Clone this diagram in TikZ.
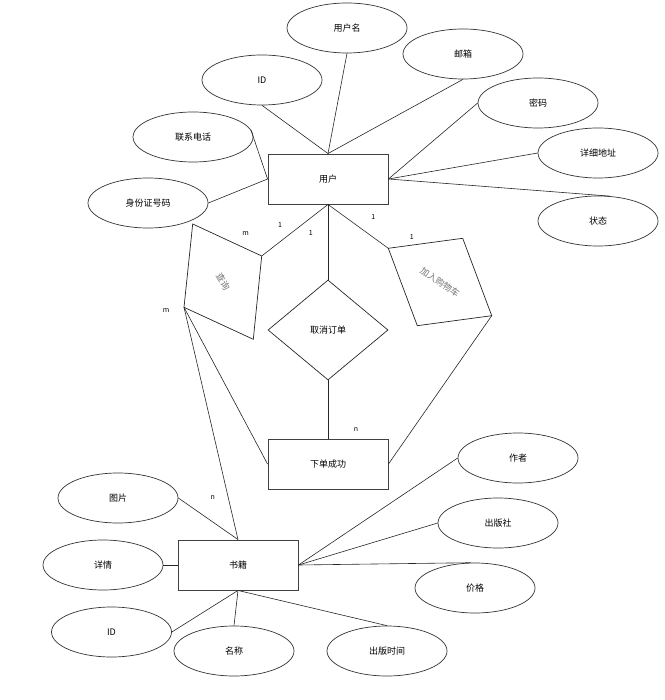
\documentclass[tikz,border=0pt]{standalone}
\usepackage{fontspec}
\setmainfont{Noto Sans CJK SC}
\usetikzlibrary{shapes.geometric}
\begin{document}
\begin{tikzpicture}[x=1pt,y=-1pt,
  attr/.style={ellipse,draw=black!80,line width=0.7pt,minimum width=120pt,minimum height=50pt,inner sep=0pt,font=\fontsize{9}{11}\selectfont},
  ent/.style={rectangle,draw=black!75,line width=0.9pt,minimum width=120pt,minimum height=50pt,inner sep=0pt,font=\fontsize{9}{11}\selectfont},
  relbox/.style={diamond,draw=black!85,line width=0.7pt,minimum width=120pt,minimum height=100pt,inner sep=0pt,font=\fontsize{9}{11}\selectfont},
  rottext/.style={text=black!55,font=\fontsize{9}{11}\selectfont,inner sep=0pt},
  lbl/.style={font=\fontsize{7}{8}\selectfont,inner sep=0pt},
  conn/.style={draw=black!85,line width=0.6pt},
  quad/.style={draw=black!85,line width=0.7pt}]
\useasboundingbox (0,0) rectangle (664,700);

% entities
\node[ent] (user) at (328,179) {用户};
\node[ent] (order) at (328,464) {下单成功};
\node[ent] (book) at (238,565) {书籍};

% user attributes
\node[attr] (uname) at (347,28) {用户名};
\node[attr] (uid) at (262,80) {ID};
\node[attr] (mail) at (463,54) {邮箱};
\node[attr] (pwd) at (538,103) {密码};
\node[attr] (tel) at (193,137) {联系电话};
\node[attr] (addr) at (598,153) {详细地址};
\node[attr] (idno) at (148,203) {身份证号码};
\node[attr] (state) at (598,221) {状态};

% book attributes
\node[attr] (author) at (518,458) {作者};
\node[attr] (press) at (498,523) {出版社};
\node[attr] (price) at (475,588) {价格};
\node[attr] (pdate) at (387,651) {出版时间};
\node[attr] (bname) at (234,651) {名称};
\node[attr] (bid) at (111.5,632) {ID};
\node[attr] (detail) at (103,565) {详情};
\node[attr] (pic) at (118,498) {图片};

% relationship: cancel order
\node[relbox] (cancel) at (328,330) {取消订单};

% relationship: query (tilted)
\coordinate (qt) at (192.7,224);
\coordinate (qr) at (261.7,256);
\coordinate (qb) at (253.3,339.3);
\coordinate (ql) at (184,307.3);
\draw[quad] (qt) -- (qr) -- (qb) -- (ql) -- cycle;
\node[rottext,rotate=-60] (query) at (223,281.7) {查询};

% relationship: add to cart (tilted)
\coordinate (ct) at (388.3,248.3);
\coordinate (ctr) at (462.7,238.3);
\coordinate (cr) at (491.7,315.7);
\coordinate (cb) at (417.3,325.7);
\draw[quad] (ct) -- (ctr) -- (cr) -- (cb) -- cycle;
\node[rottext,rotate=-34] (cart) at (440,282) {加入购物车};

% user attribute connectors
\draw[conn] (user.north) -- (uid.south);
\draw[conn] (user.north) -- (uname.south);
\draw[conn] (user.north) -- (mail.south);
\draw[conn] (user.east) -- (pwd.west);
\draw[conn] (user.east) -- (addr.west);
\draw[conn] (user.east) -- (state.65);
\draw[conn] (user.west) -- (tel.7);
\draw[conn] (user.west) -- (idno.east);

% book attribute connectors
\draw[conn] (book.north) -- (pic.east);
\draw[conn] (book.west) -- (detail.east);
\draw[conn] (book.south) -- (bid.east);
\draw[conn] (book.south) -- (bname.north);
\draw[conn] (book.south) -- (pdate.north);
\draw[conn] (book.east) -- (author.west);
\draw[conn] (book.east) -- (press.west);
\draw[conn] (book.east) -- (price.100);

% relationship connectors
\draw[conn] (user.south) -- (qr);
\draw[conn] (user.south) -- (cancel.north);
\draw[conn] (user.south) -- (ct);
\draw[conn] (ql) -- (order.west);
\draw[conn] (ql) -- (book.north);
\draw[conn] (cr) -- (order.east);
\draw[conn] (cancel.south) -- (order.north);

% cardinality labels
\node[lbl] (l1) at (280,225) {1};
\node[lbl] (l2) at (310.7,233.3) {1};
\node[lbl] (l3) at (373.3,216.7) {1};
\node[lbl] (l4) at (411.7,237.3) {1};
\node[lbl] (m1) at (245.7,234) {m};
\node[lbl] (m2) at (166,310.7) {m};
\node[lbl] (n1) at (356,430) {n};
\node[lbl] (n2) at (212.7,497.7) {n};
\end{tikzpicture}
\end{document}
